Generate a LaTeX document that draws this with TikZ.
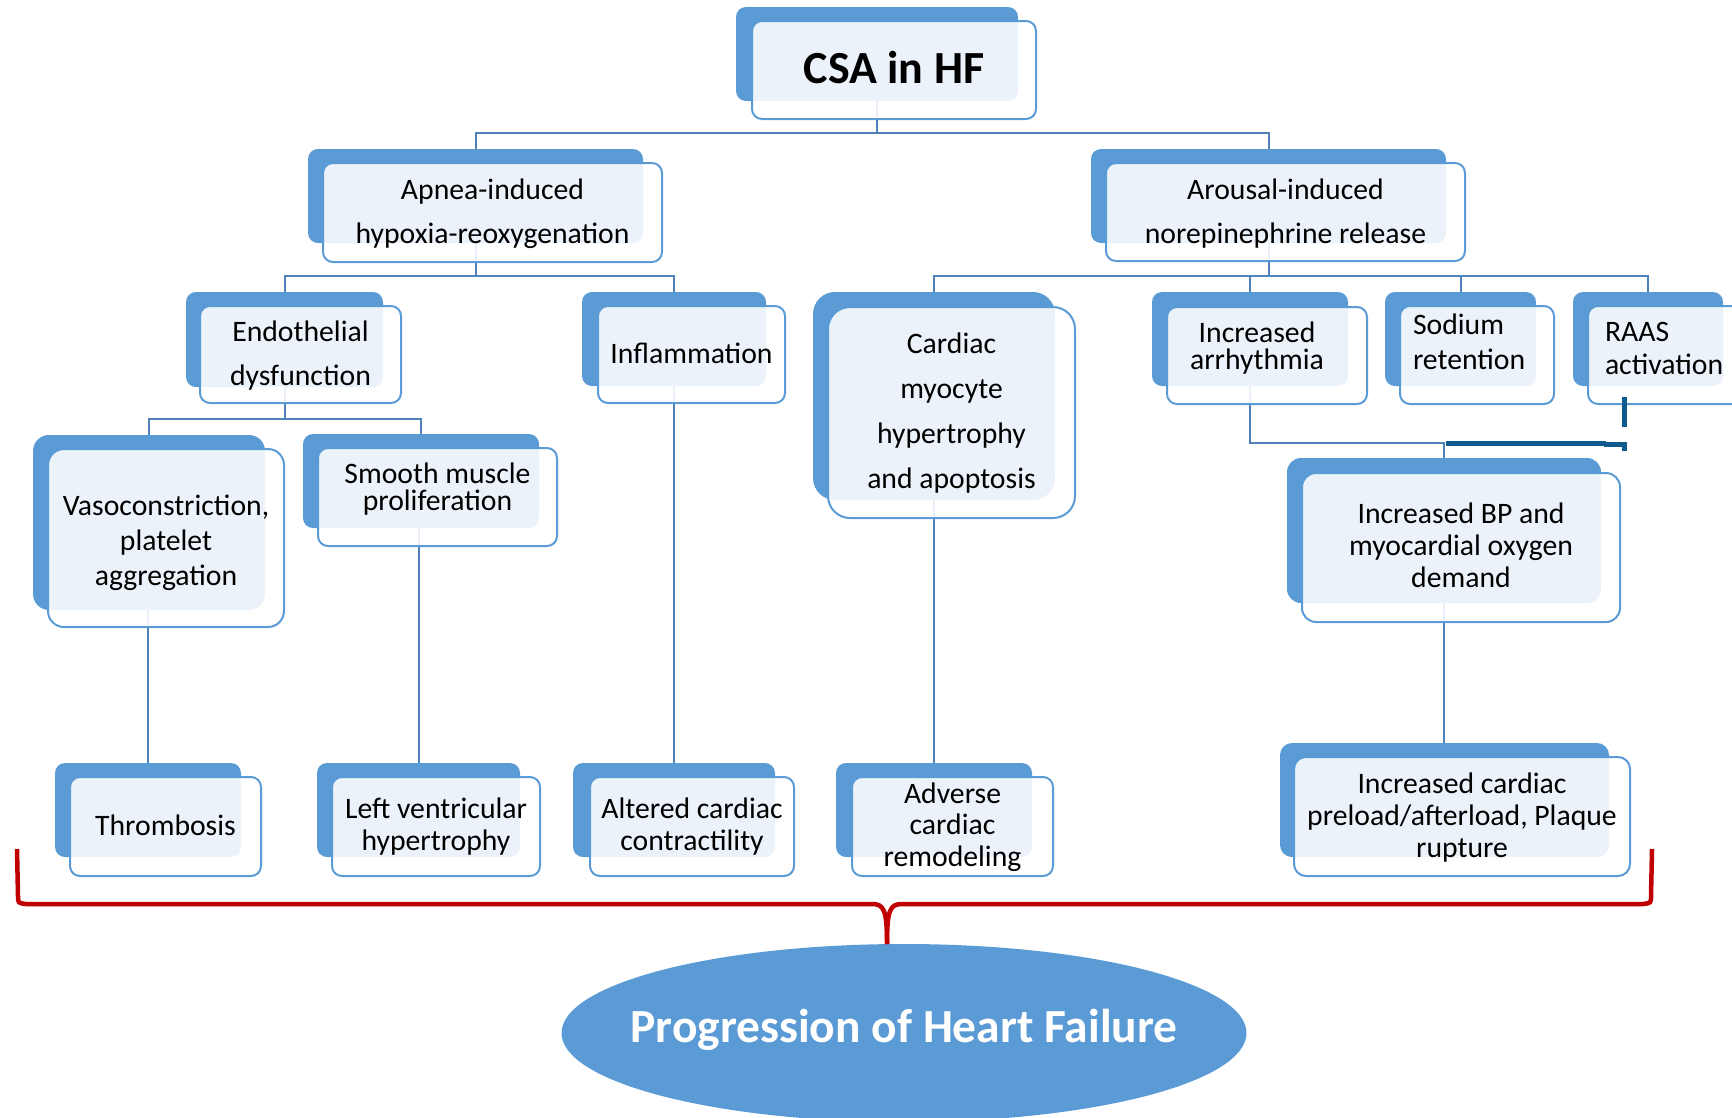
\documentclass[tikz,border=0pt]{standalone}
\usepackage{fontspec}
\setmainfont{Carlito}
\usetikzlibrary{shapes.geometric,fit}
\pgfdeclarelayer{bg}
\pgfsetlayers{bg,main}
\definecolor{boxblue}{RGB}{91,155,213}
\definecolor{connblue}{RGB}{79,129,189}
\definecolor{darkconn}{RGB}{14,90,140}
\definecolor{bracered}{RGB}{192,0,0}
% centred stack of lines with a fixed baseline distance (baseline = first line)
\newcommand\stk[2]{\vtop{\baselineskip=#1pt\lineskiplimit=-100pt\lineskip=0pt\halign{\hfil##\hfil\cr#2\crcr}}}
% left-aligned stack of lines of a fixed width
\newcommand\stkl[3]{\vtop{\baselineskip=#1pt\lineskiplimit=-100pt\lineskip=0pt\halign{##\hfil\cr#3\cr\hbox to #2pt{}\crcr}}}
\begin{document}
\begin{tikzpicture}[x=1pt,y=-1pt,
  backbox/.style={draw=none, fill=boxblue, inner sep=0pt, outer sep=0pt},
  frontbox/.style={rectangle, draw=boxblue, line width=2pt, fill=white, fill opacity=0.88, text opacity=1,
    inner sep=0pt, outer sep=0pt, font=\fontsize{29.7}{35}\selectfont},
  conn/.style={draw=connblue, line width=2pt},
  darkline/.style={draw=darkconn, line width=5pt},
  bracestyle/.style={draw=bracered, line width=4.5pt}]
\useasboundingbox (0,0) rectangle (1732,1117);
\clip (0,0) rectangle (1732,1117);

% ---- level 0
\node[backbox, rounded corners=10pt, fit={(736,7) (1018,101)}] (tB) {};
\node[frontbox, rounded corners=10pt, minimum width=284pt, minimum height=98pt,
  font=\fontsize{46}{50}\selectfont\bfseries, text height=30pt, text depth=4pt] (t) at (894,70) {CSA in HF};

% ---- level 1
\node[backbox, rounded corners=10pt, fit={(308,149) (643,243)}] (aB) {};
\node[frontbox, rounded corners=10pt, minimum width=339pt, minimum height=99pt, text height=10pt, text depth=37pt] (a)
  at (492.5,212.5) {\stk{44}{Apnea-induced\cr hypoxia-reoxygenation}};
\node[backbox, rounded corners=10pt, fit={(1091,149) (1446,243)}] (arsB) {};
\node[frontbox, rounded corners=10pt, minimum width=359pt, minimum height=98pt, text height=10pt, text depth=36pt] (ars)
  at (1285.5,212) {\stk{44}{Arousal-induced\cr norepinephrine release}};

% ---- level 2
\node[backbox, rounded corners=10pt, fit={(186,292) (383,387)}] (eB) {};
\node[frontbox, rounded corners=10pt, minimum width=201pt, minimum height=97pt, text height=10pt, text depth=37pt] (e)
  at (300.5,354.5) {\stk{44}{Endothelial\cr dysfunction}};
\node[backbox, rounded corners=10pt, fit={(582,292) (766,386)}] (inB) {};
\node[frontbox, rounded corners=10pt, minimum width=187pt, minimum height=97pt, text height=20pt, text depth=3pt] (in)
  at (691.5,354.5) {Inflammation};
\node[backbox, rounded corners=22pt, fit={(813,292) (1055,500)}] (cmB) {};
\node[frontbox, rounded corners=22pt, minimum width=247pt, minimum height=211pt, text height=10pt, text depth=129pt] (cm)
  at (951.5,412.5) {\stk{45}{Cardiac\cr myocyte\cr hypertrophy\cr and apoptosis}};
\node[backbox, rounded corners=10pt, fit={(1152,292) (1348,386)}] (arrB) {};
\node[frontbox, rounded corners=10pt, minimum width=200pt, minimum height=97pt, text height=10pt, text depth=37pt] (arr)
  at (1267,355.5) {\kern-20pt\stk{27}{Increased\cr arrhythmia}};
\node[backbox, rounded corners=10pt, fit={(1385,292) (1536,386)}] (soB) {};
\node[frontbox, rounded corners=10pt, minimum width=154pt, minimum height=98pt, text height=10pt, text depth=52pt] (so)
  at (1477,355) {\stkl{35}{128}{Sodium\cr retention}};
\node[backbox, rounded corners=10pt, fit={(1573,292) (1723,386)}] (raB) {};
\node[frontbox, rounded corners=10pt, minimum width=154pt, minimum height=98pt, text height=10pt, text depth=38pt] (ra)
  at (1665,355) {\stkl{33}{120}{RAAS\cr activation}};

% ---- level 3
\node[backbox, rounded corners=16pt, fit={(33,435) (265,610)}] (vB) {};
\node[frontbox, rounded corners=16pt, minimum width=236pt, minimum height=178pt, text height=10pt, text depth=56pt] (v)
  at (166,538) {\stk{35}{Vasoconstriction,\cr platelet\cr aggregation}};
\node[backbox, rounded corners=10pt, fit={(303,434) (539,528)}] (smB) {};
\node[frontbox, rounded corners=10pt, minimum width=239pt, minimum height=98pt, text height=10pt, text depth=38pt] (sm)
  at (437.5,497) {\stk{27}{Smooth muscle\cr proliferation}};
\node[backbox, rounded corners=14pt, fit={(1287,458) (1601,603)}] (bpB) {};
\node[frontbox, rounded corners=14pt, minimum width=318pt, minimum height=149pt, text height=10pt, text depth=59pt] (bp)
  at (1461,547.5) {\stk{32}{Increased BP and\cr myocardial oxygen\cr demand}};

% ---- level 4
\node[backbox, rounded corners=10pt, fit={(55,763) (241,857)}] (thB) {};
\node[frontbox, rounded corners=10pt, minimum width=191pt, minimum height=99pt, text height=20pt, text depth=3pt] (th)
  at (165.5,826.5) {Thrombosis};
\node[backbox, rounded corners=10pt, fit={(317,763) (520,857)}] (lvB) {};
\node[frontbox, rounded corners=10pt, minimum width=208pt, minimum height=99pt, text height=10pt, text depth=27pt] (lv)
  at (436,826.5) {\stk{32}{Left ventricular\cr hypertrophy}};
\node[backbox, rounded corners=10pt, fit={(573,763) (775,857)}] (alB) {};
\node[frontbox, rounded corners=10pt, minimum width=204pt, minimum height=99pt, text height=10pt, text depth=27pt] (al)
  at (692,826.5) {\stk{32}{Altered cardiac\cr contractility}};
\node[backbox, rounded corners=10pt, fit={(836,763) (1032,857)}] (adB) {};
\node[frontbox, rounded corners=10pt, minimum width=201pt, minimum height=99pt, text height=10pt, text depth=57pt] (ad)
  at (952.5,826.5) {\stk{31.5}{Adverse\cr cardiac\cr remodeling}};
\node[backbox, rounded corners=12pt, fit={(1280,743) (1609,857)}] (prB) {};
\node[frontbox, rounded corners=12pt, minimum width=336pt, minimum height=119pt, text height=10pt, text depth=57pt] (pr)
  at (1462,816.5) {\stk{32}{Increased cardiac\cr preload/afterload, Plaque\cr rupture}};

% ---- outcome
\node[ellipse, fill=boxblue, inner sep=0pt, minimum width=685pt, minimum height=178pt,
  text=white, font=\fontsize{47.5}{50}\selectfont\bfseries, text height=30pt, text depth=12pt] (hf) at (904,1033)
  {\makebox[0pt]{Progression of Heart Failure}};

% ---- connectors (behind boxes)
\begin{pgfonlayer}{bg}
\coordinate (busA) at (0,133);
\coordinate (busB) at (0,276);
\coordinate (busC) at (0,419);
\coordinate (busD) at (0,443);
\draw[conn] (tB.south) -- (tB.south |- busA) -| (aB.north);
\draw[conn] (tB.south |- busA) -| (arsB.north);
\draw[conn] (aB.south) -- (aB.south |- busB) -| (eB.north);
\draw[conn] (aB.south |- busB) -| (inB.north);
\draw[conn] (arsB.south) -- (arsB.south |- busB) -| (cmB.north);
\draw[conn] (arsB.south |- busB) -| (arrB.north);
\draw[conn] (arsB.south |- busB) -| (soB.north);
\draw[conn] (arsB.south |- busB) -| (raB.north);
\draw[conn] (eB.south) -- (eB.south |- busC) -| (vB.north);
\draw[conn] (eB.south |- busC) -| (smB.north);
\draw[conn] (thB.north |- vB.south) -- (thB.north);
\draw[conn] (lvB.north |- smB.south) -- (lvB.north);
\draw[conn] (inB.south) -- (inB.south |- alB.north);
\draw[conn] (cmB.south) -- (cmB.south |- adB.north);
\draw[conn] (arrB.south) -- (arrB.south |- busD) -| (bpB.north);
\draw[conn] (bpB.south) -- (bpB.south |- prB.north);
\end{pgfonlayer}

% ---- dark RAAS link
\coordinate (rdTop) at (1624,397);
\coordinate (rdMid) at (1624,427);
\coordinate (rdJ) at (1624,442);
\coordinate (rdBot) at (1624,451);
\coordinate (dkA) at (1446,443);
\coordinate (dkB) at (1606,443);
\coordinate (dkC) at (1604,444.5);
\coordinate (dkD) at (1627,444.5);
\draw[darkline] (rdTop) -- (rdMid);
\draw[darkline] (rdJ) -- (rdBot);
\draw[darkline] (dkA) -- (dkB);
\draw[darkline] (dkC) -- (dkD);

% ---- brace
\coordinate (brL) at (17,849);
\coordinate (brR) at (1652,849);
\coordinate (brM) at (887,944);
\draw[bracestyle] (brL) -- (18,896) .. controls (18,903) .. (26,904) -- (872,904) .. controls (884,904) and (887,910) .. (brM);
\draw[bracestyle] (brR) -- (1651,896) .. controls (1651,903) .. (1643,904) -- (902,904) .. controls (890,904) and (887,910) .. (brM);
\end{tikzpicture}
\end{document}
